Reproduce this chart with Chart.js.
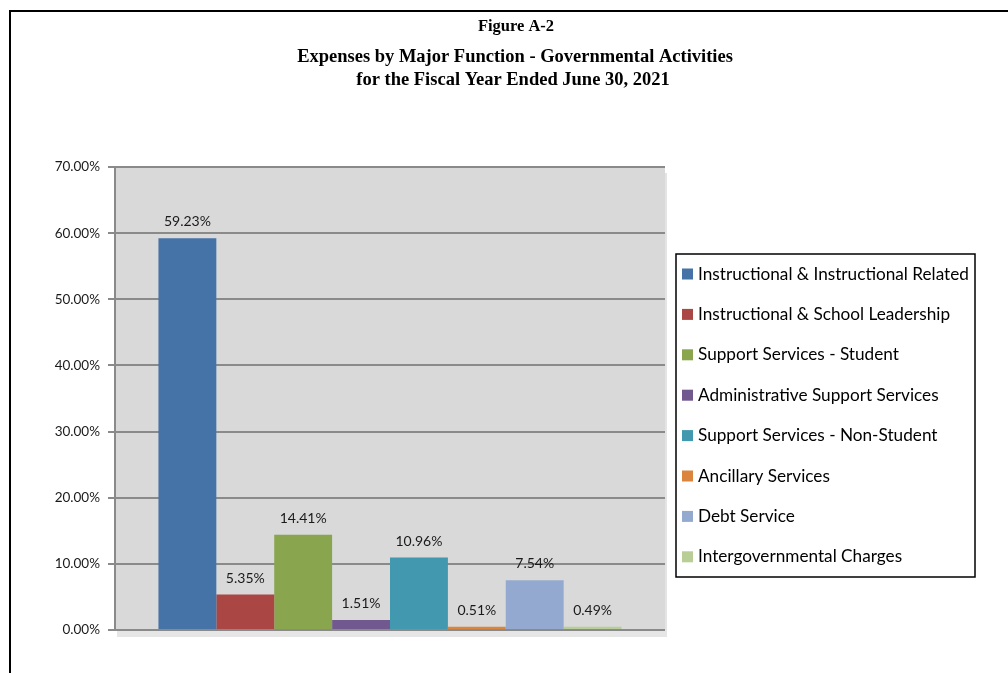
<!DOCTYPE html>
<html>
<head>
<meta charset="utf-8">
<script src="https://cdn.jsdelivr.net/npm/chart.js@4.4.1/dist/chart.umd.min.js"></script>
<style>
  html, body { margin: 0; padding: 0; background: #fff; }
  #wrap { position: relative; width: 1008px; height: 673px; overflow: hidden; }
  #frame { position: absolute; left: 9px; top: 10px; width: 1100px; height: 800px;
           border-top: 2px solid #000; border-left: 2px solid #000; }
  canvas { position: absolute; left: 0; top: 0; }
</style>
</head>
<body>
<div id="wrap">
  <div id="frame"></div>
  <canvas id="c" width="1008" height="673"></canvas>
</div>
<script>
// ---- data ----
const categories = [''];
const seriesLabels = [
  'Instructional & Instructional Related',
  'Instructional & School Leadership',
  'Support Services - Student',
  'Administrative Support Services',
  'Support Services - Non-Student',
  'Ancillary Services',
  'Debt Service',
  'Intergovernmental Charges'
];
const seriesValues = [59.23, 5.35, 14.41, 1.51, 10.96, 0.51, 7.54, 0.49];
const seriesColors = ['#4572A7', '#AA4643', '#89A54E', '#71588F', '#4198AF', '#DB843D', '#93A9CF', '#B9CD96'];
const yTicks = [0, 10, 20, 30, 40, 50, 60, 70];
const titleLines = ['Figure A-2', 'Expenses by Major Function - Governmental Activities', 'for the Fiscal Year Ended June 30, 2021'];

const labelFont = '"Lato", "Open Sans", sans-serif';

const datasets = seriesLabels.map((lab, i) => ({
  label: lab,
  data: [seriesValues[i]],
  backgroundColor: seriesColors[i],
  borderWidth: 0,
  categoryPercentage: 0.842,
  barPercentage: 1.0
}));

const wallPlugin = {
  id: 'wall',
  beforeDraw(chart) {
    const {ctx, chartArea: a} = chart;
    ctx.save();
    ctx.fillStyle = '#d9d9d9';
    ctx.fillRect(a.left, a.top, a.right - a.left, a.bottom - a.top);
    ctx.fillStyle = '#e4e4e4';
    ctx.fillRect(a.right, a.top + 6, 2, a.bottom - a.top - 6);
    ctx.fillStyle = '#e6e6e6';
    ctx.fillRect(a.left + 2, a.bottom, a.right - a.left, 7);
    ctx.restore();
  }
};

const labelsPlugin = {
  id: 'valueLabels',
  afterDatasetsDraw(chart) {
    const {ctx} = chart;
    ctx.save();
    ctx.font = '14px ' + labelFont;
    ctx.fillStyle = '#1a1a1a';
    ctx.textAlign = 'center';
    ctx.textBaseline = 'middle';
    chart.data.datasets.forEach((ds, i) => {
      const meta = chart.getDatasetMeta(i);
      meta.data.forEach((bar, j) => {
        ctx.fillText(ds.data[j].toFixed(2) + '%', bar.x, bar.y - 16.5);
      });
    });
    ctx.restore();
  }
};

const titlePlugin = {
  id: 'customTitle',
  afterDraw(chart) {
    const {ctx} = chart;
    ctx.save();
    ctx.fillStyle = '#000';
    ctx.textAlign = 'center';
    ctx.textBaseline = 'middle';
    ctx.font = 'bold 16.5px "Liberation Serif", "Times New Roman", serif';
    ctx.fillText(titleLines[0], 516, 27);
    ctx.font = 'bold 18.5px "Liberation Serif", "Times New Roman", serif';
    ctx.fillText(titleLines[1], 515, 57);
    ctx.fillText(titleLines[2], 513, 80);
    ctx.restore();
  }
};

const legendPlugin = {
  id: 'boxLegend',
  afterDraw(chart) {
    const {ctx} = chart;
    const x = 676, y = 254, w = 299, h = 323;
    ctx.save();
    ctx.fillStyle = '#fff';
    ctx.fillRect(x, y, w, h);
    ctx.strokeStyle = '#000';
    ctx.lineWidth = 1.5;
    ctx.strokeRect(x, y, w, h);
    ctx.font = '17.2px ' + labelFont;
    ctx.textAlign = 'left';
    ctx.textBaseline = 'middle';
    chart.data.datasets.forEach((ds, i) => {
      const cy = y + 20 + i * 40.4;
      ctx.fillStyle = ds.backgroundColor;
      ctx.fillRect(x + 6, cy - 5.5, 11, 11);
      ctx.fillStyle = '#000';
      ctx.fillText(ds.label, x + 22, cy);
    });
    ctx.restore();
  }
};

new Chart(document.getElementById('c'), {
  type: 'bar',
  data: { labels: categories, datasets },
  options: {
    responsive: false,
    animation: false,
    layout: { padding: { left: 0, right: 343, top: 167, bottom: 43 } },
    plugins: {
      legend: { display: false },
      title: { display: false },
      tooltip: { enabled: false }
    },
    scales: {
      x: {
        grid: { display: false },
        border: { display: false },
        ticks: { display: false },
        afterFit(s) { s.height = 0; }
      },
      y: {
        min: 0,
        max: 70,
        afterBuildTicks(s) { s.ticks = yTicks.map(v => ({ value: v })); },
        afterFit(s) { s.width = 115; },
        grid: {
          color: '#8a8a8a',
          lineWidth: 2,
          tickLength: 7,
          drawTicks: true
        },
        border: { display: true, color: '#8a8a8a', width: 2 },
        ticks: {
          color: '#1a1a1a',
          padding: 8,
          font: { family: labelFont, size: 13.5 },
          callback: v => v.toFixed(2) + '%'
        }
      }
    }
  },
  plugins: [wallPlugin, labelsPlugin, titlePlugin, legendPlugin]
});
</script>
</body>
</html>
